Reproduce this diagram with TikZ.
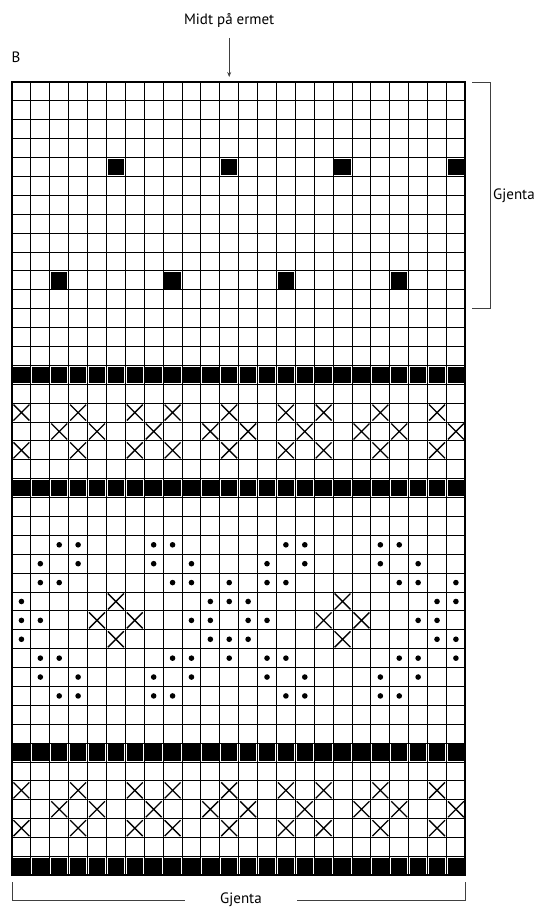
\documentclass[tikz,border=0pt]{standalone}
\usepackage{fontspec}
\setmainfont{PT Sans}
\usetikzlibrary{arrows.meta, positioning, calc}
\newcommand{\cs}{18.89}
\tikzset{
  every picture/.style={font=\fontsize{15}{17}\selectfont, line width=1pt},
  gridline/.style={draw=black, line width=1pt},
  frame/.style={draw=black, line width=2.2pt},
  bracket/.style={draw=black!75, line width=1pt},
  arrow/.style={-{Stealth[length=5pt, width=4pt]}, draw=black!75, line width=0.9pt},
  note/.style={fill=white, inner sep=2pt},
}
% one chart cell: column #1, row #2 (counted from the top)
\newcommand{\blk}[2]{\fill ({12+#1*\cs+1.2},{82+#2*\cs+1.2}) rectangle ++({\cs-2.4},{\cs-2.4});}
\newcommand{\crs}[2]{\draw[line width=1.3pt] ({12+#1*\cs+1.5},{82+#2*\cs+1.5}) -- ++({\cs-3},{\cs-3})
  ({12+#1*\cs+\cs-1.5},{82+#2*\cs+1.5}) -- ++({3-\cs},{\cs-3});}
\newcommand{\pnt}[2]{\fill ({12+(#1+0.5)*\cs},{82+(#2+0.5)*\cs}) circle (2.8);}

\begin{document}
\begin{tikzpicture}[x=1pt, y=-1pt]
  \useasboundingbox (0,0) rectangle (549,910);

  % ---- grid, 24 stitches by 42 rows
  \foreach \k in {1,...,23} { \draw[gridline] ({12+\k*\cs},82) -- ({12+\k*\cs},{82+42*\cs}); }
  \foreach \r in {1,...,41} { \draw[gridline] (12,{82+\r*\cs}) -- ({12+24*\cs},{82+\r*\cs}); }

  % ---- full black rows
  \foreach \r in {15,21,35,41}
    { \foreach \k in {0,...,23} { \blk{\k}{\r} } }

  % ---- single black stitches in the repeat
  \foreach \k in {5,11,17,23} { \blk{\k}{4} }
  \foreach \k in {2,8,14,20} { \blk{\k}{10} }

  % ---- cross bands
  \foreach \r/\cols in {17/{0,3,6,8,11,14,16,19,22}, 18/{2,4,7,10,12,15,18,20,23},
                        19/{0,3,6,8,11,14,16,19,22}, 37/{0,3,6,8,11,14,16,19,22},
                        38/{2,4,7,10,12,15,18,20,23}, 39/{0,3,6,8,11,14,16,19,22}}
    { \foreach \k in \cols { \crs{\k}{\r} } }

  % ---- dotted motif with crosses in the middle
  \foreach \r/\cols in {24/{2,3,7,8,14,15,19,20}, 25/{1,3,7,9,13,15,19,21},
                        26/{1,2,8,9,11,13,14,20,21,23}, 27/{0,10,11,12,22,23},
                        28/{0,1,9,10,12,13,21,22}, 29/{0,10,11,12,22,23},
                        30/{1,2,8,9,11,13,14,20,21,23}, 31/{1,3,7,9,13,15,19,21},
                        32/{2,3,7,8,14,15,19,20}}
    { \foreach \k in \cols { \pnt{\k}{\r} } }
  \foreach \k/\r in {5/27, 4/28, 6/28, 5/29, 17/27, 16/28, 18/28, 17/29} { \crs{\k}{\r} }

  \draw[frame] (12,82) rectangle ({12+24*\cs},{82+42*\cs});

  % ---- labels
  \node (chartB) at (16,57) {B};
  \node (midt) at (229.2,20) {Midt på ermet};
  \coordinate (midtpt) at (229.2,77);
  \draw[arrow, shorten <=7pt] (midt.south) -- (midtpt);

  % ---- repeat brackets
  \coordinate (rtop) at (472,82);
  \coordinate (rbot) at (472,{82+12*\cs});
  \draw[bracket] (rtop) -- ++(18,0) |- (rbot);
  \node[note, inner ysep=13pt] (gjright) at (514,196) {Gjenta};

  \coordinate (ltick) at (12,882);
  \coordinate (rtick) at ({12+24*\cs},882);
  \node (gjbottom) at (241,900) {};
  \draw[bracket] (ltick) |- (gjbottom) -| (rtick);
  \node[note, inner xsep=35pt] at (gjbottom) {Gjenta};
\end{tikzpicture}
\end{document}
